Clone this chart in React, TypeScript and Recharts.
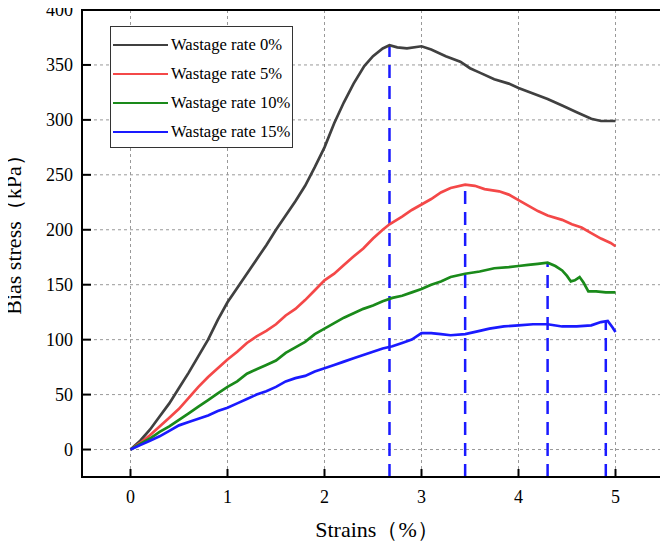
import { CartesianGrid, Line, LineChart, ReferenceArea, ReferenceLine, XAxis, YAxis } from "recharts";

const strain0 = [0, 0.1, 0.2, 0.3, 0.4, 0.5, 0.6, 0.7, 0.8, 0.9, 1.0, 1.1, 1.2, 1.3, 1.4, 1.5, 1.6, 1.7, 1.8, 1.9, 2.0, 2.1, 2.2, 2.3, 2.41, 2.5, 2.6, 2.67, 2.75, 2.85, 3.0, 3.1, 3.25, 3.4, 3.5, 3.6, 3.75, 3.9, 4.0, 4.15, 4.3, 4.45, 4.6, 4.75, 4.85, 5.0];
const stress0 = [0, 8, 18, 30, 42, 56, 70, 85, 100, 118, 134, 147, 160, 173, 186, 200, 213, 226, 240, 257, 275, 297, 316, 333, 349, 358, 365, 368, 366, 365, 367, 364, 358, 353, 347, 343, 337, 333, 329, 324, 319, 313, 307, 301, 299, 299];

const strain5 = [0, 0.1, 0.2, 0.3, 0.4, 0.5, 0.6, 0.7, 0.8, 0.9, 1.0, 1.1, 1.2, 1.3, 1.4, 1.5, 1.6, 1.7, 1.8, 1.9, 2.0, 2.1, 2.2, 2.29, 2.4, 2.5, 2.6, 2.67, 2.8, 2.9, 3.0, 3.1, 3.2, 3.3, 3.45, 3.55, 3.65, 3.8, 3.9, 4.0, 4.1, 4.2, 4.3, 4.45, 4.55, 4.65, 4.75, 4.85, 4.95, 5.0];
const stress5 = [0, 6, 13, 21, 29, 37, 47, 57, 66, 74, 82, 89, 97, 103, 108, 114, 122, 128, 136, 145, 154, 160, 168, 175, 183, 192, 200, 205, 212, 218, 223, 228, 234, 238, 241, 240, 237, 235, 232, 227, 222, 217, 213, 209, 205, 202, 197, 192, 188, 185];

const strain10 = [0, 0.1, 0.2, 0.3, 0.4, 0.5, 0.6, 0.7, 0.8, 0.9, 1.0, 1.1, 1.2, 1.3, 1.4, 1.5, 1.6, 1.7, 1.8, 1.9, 2.0, 2.1, 2.2, 2.3, 2.4, 2.5, 2.6, 2.7, 2.8, 2.9, 3.0, 3.1, 3.2, 3.3, 3.45, 3.6, 3.75, 3.9, 4.0, 4.1, 4.2, 4.3, 4.38, 4.45, 4.5, 4.54, 4.58, 4.63, 4.67, 4.72, 4.8, 4.9, 5.0];
const stress10 = [0, 5, 10, 16, 21, 27, 33, 39, 45, 51, 57, 62, 69, 73, 77, 81, 88, 93, 98, 105, 110, 115, 120, 124, 128, 131, 135, 138, 140, 143, 146, 150, 153, 157, 160, 162, 165, 166, 167, 168, 169, 170, 167, 163, 158, 153, 154, 157, 152, 144, 144, 143, 143];

const strain15 = [0, 0.1, 0.2, 0.3, 0.4, 0.5, 0.6, 0.7, 0.8, 0.9, 1.0, 1.1, 1.2, 1.3, 1.4, 1.5, 1.6, 1.7, 1.8, 1.9, 2.0, 2.1, 2.2, 2.3, 2.4, 2.5, 2.6, 2.7, 2.8, 2.9, 3.0, 3.1, 3.2, 3.3, 3.45, 3.6, 3.7, 3.85, 4.0, 4.15, 4.3, 4.45, 4.6, 4.75, 4.85, 4.92, 4.97, 5.0];
const stress15 = [0, 4, 8, 12, 17, 22, 25, 28, 31, 35, 38, 42, 46, 50, 53, 57, 62, 65, 67, 71, 74, 77, 80, 83, 86, 89, 92, 94, 97, 100, 106, 106, 105, 104, 105, 108, 110, 112, 113, 114, 114, 112, 112, 113, 116, 117, 111, 107];

const seriesNames = ["Wastage rate 0%", "Wastage rate 5%", "Wastage rate 10%", "Wastage rate 15%"];
const seriesColors = ["#404040", "#f44848", "#1a8a1a", "#1a1aff"];
const peakStrain = [2.67, 3.45, 4.3, 4.9];
const peakStress = [368, 241, 170, 117];

const xTicks = [0, 1, 2, 3, 4, 5];
const yTicks = [0, 50, 100, 150, 200, 250, 300, 350, 400];

const zip = (s: number[], v: number[]) => s.map((x, i) => ({ s: x, v: v[i] }));
const series = [
  zip(strain0, stress0),
  zip(strain5, stress5),
  zip(strain10, stress10),
  zip(strain15, stress15),
];

const FONT = "'Liberation Serif', 'Times New Roman', serif";

function XTick({ x, y, payload }: any) {
  return (
    <g>
      <line x1={x} y1={y} x2={x} y2={y - 8} stroke="#000" strokeWidth={2} />
      <text x={x} y={y + 26} textAnchor="middle" fontFamily={FONT} fontSize={18} fill="#000">
        {payload.value}
      </text>
    </g>
  );
}

function YTick({ x, y, payload }: any) {
  return (
    <g>
      <line x1={x} y1={y} x2={x + 9} y2={y} stroke="#000" strokeWidth={2} />
      <text x={x - 9} y={y + 6} textAnchor="end" fontFamily={FONT} fontSize={18} fill="#000">
        {payload.value}
      </text>
    </g>
  );
}

// the page keeps an 8px body margin; pull the chart back to the corner so edge text is not clipped
export default function App() {
  return (
    <div style={{ position: "relative", width: 668, height: 541, margin: "-8px 0 0 -8px" }}>
      <LineChart width={668} height={541} margin={{ top: 10, right: 4, left: 8, bottom: 0 }}>
        <CartesianGrid stroke="#999" strokeDasharray="3 3" />
        <XAxis
          type="number"
          dataKey="s"
          domain={[-0.5, 5.5]}
          ticks={xTicks}
          allowDataOverflow
          height={64}
          tickLine={false}
          tickSize={0}
          tickMargin={0}
          axisLine={{ stroke: "#000", strokeWidth: 2 }}
          tick={<XTick />}
          label={{
            content: ({ viewBox }: any) => (
              <text
                x={viewBox.x + viewBox.width / 2 + 4}
                y={viewBox.y + 60}
                textAnchor="middle"
                fontFamily={FONT}
                fontSize={22}
                fill="#000"
              >
                Strains（%）
              </text>
            ),
          }}
        />
        <YAxis
          type="number"
          domain={[-25, 400]}
          ticks={yTicks}
          allowDataOverflow
          width={74}
          tickLine={false}
          tickSize={0}
          tickMargin={0}
          axisLine={{ stroke: "#000", strokeWidth: 2 }}
          tick={<YTick />}
          label={{
            content: ({ viewBox }: any) => {
              const cx = 21;
              const cy = viewBox.y + viewBox.height / 2 - 14;
              return (
                <text
                  x={cx}
                  y={cy}
                  transform={`rotate(-90 ${cx} ${cy})`}
                  textAnchor="middle"
                  fontFamily={FONT}
                  fontSize={22}
                  fill="#000"
                >
                  Bias stress（kPa）
                </text>
              );
            },
          }}
        />
        <ReferenceArea x1={-0.5} x2={5.5} y1={-25} y2={400} fill="none" stroke="#000" strokeWidth={2} />
        {peakStrain.map((ps, i) => (
          <ReferenceLine
            key={`peak-${i}`}
            segment={[
              { x: ps, y: -25 },
              { x: ps, y: peakStress[i] },
            ]}
            stroke="#1a1aff"
            strokeWidth={2.5}
            strokeDasharray="13 8"
          />
        ))}
        {series.map((d, i) => (
          <Line
            key={seriesNames[i]}
            data={d}
            dataKey="v"
            name={seriesNames[i]}
            type="linear"
            stroke={seriesColors[i]}
            strokeWidth={2.7}
            dot={false}
            isAnimationActive={false}
          />
        ))}
      </LineChart>
      <div
        style={{
          position: "absolute",
          left: 110,
          top: 26,
          width: 181,
          height: 120,
          border: "1.5px solid #333",
          background: "#fff",
          fontFamily: FONT,
          fontSize: 16.6,
          color: "#000",
        }}
      >
        {seriesNames.map((n, i) => (
          <div
            key={n}
            style={{ position: "absolute", left: 2, top: 8 + i * 29, display: "flex", alignItems: "center", height: 20 }}
          >
            <span style={{ display: "inline-block", width: 55, height: 2.5, background: seriesColors[i], marginRight: 3 }} />
            <span>{n}</span>
          </div>
        ))}
      </div>
    </div>
  );
}
